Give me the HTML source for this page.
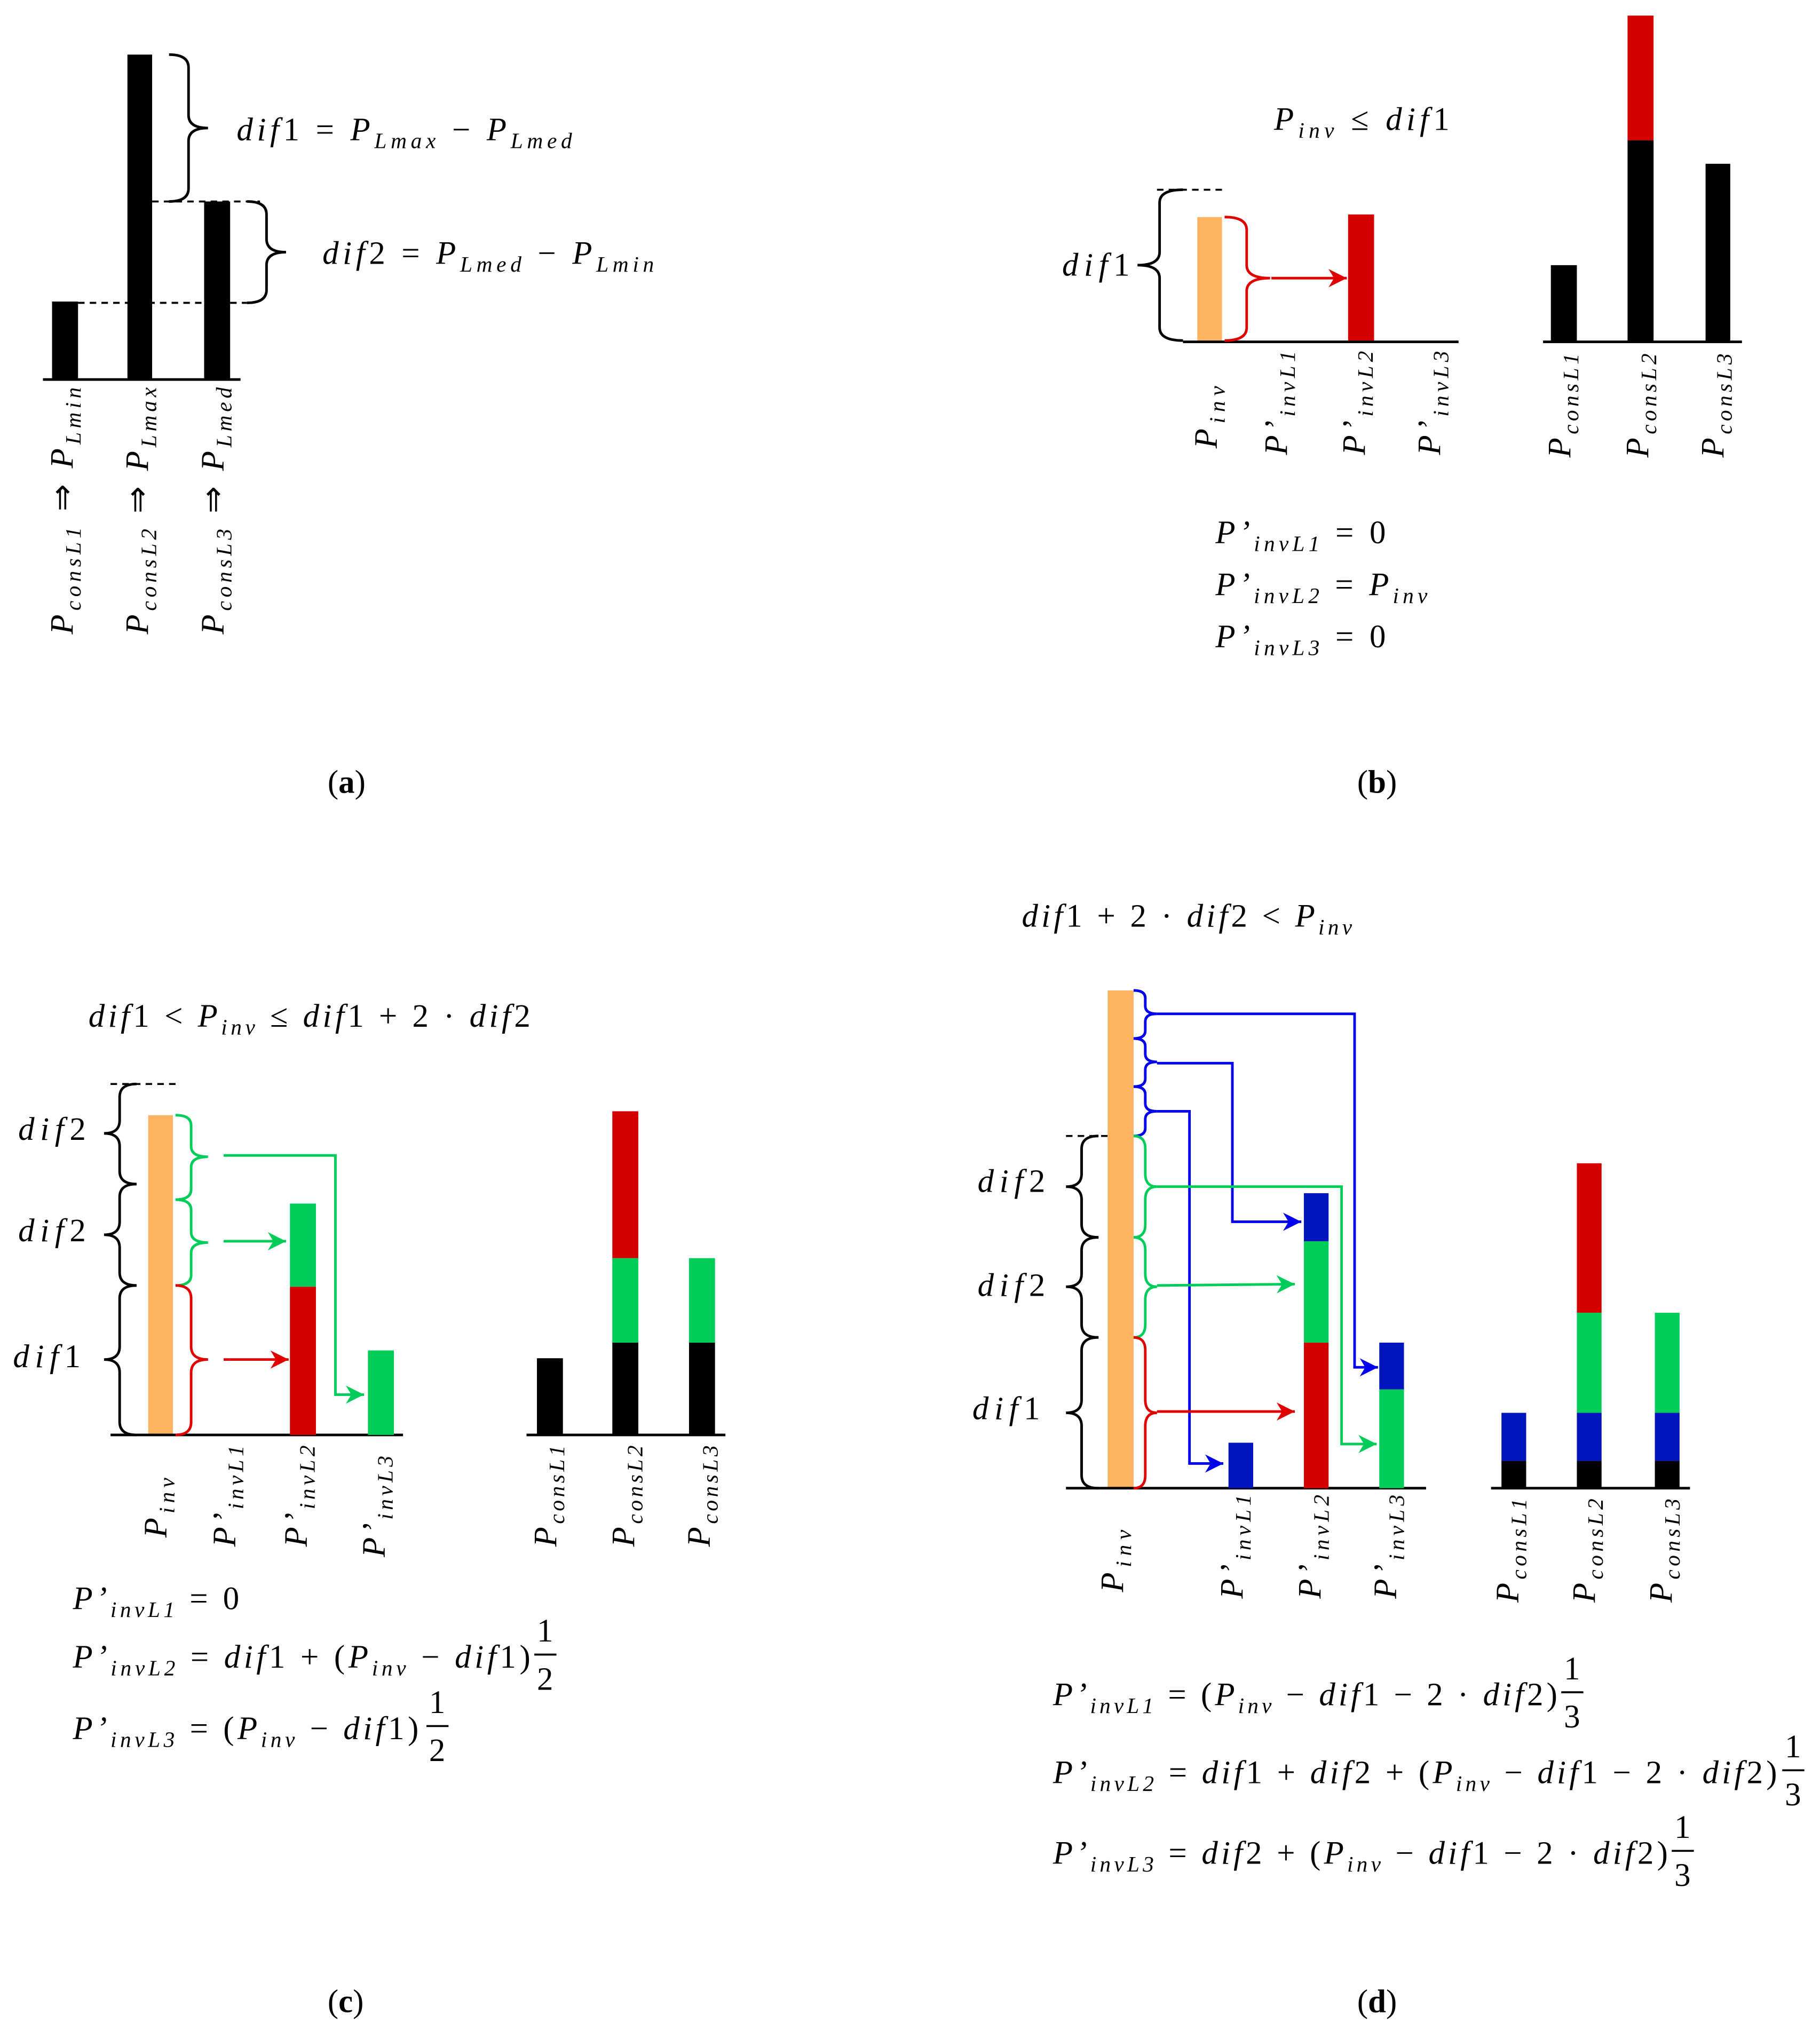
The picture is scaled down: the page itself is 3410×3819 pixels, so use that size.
<!DOCTYPE html>
<html><head><meta charset="utf-8"><style>
html,body{margin:0;padding:0;background:#fff}
svg{display:block}
text{font-family:"Liberation Serif",serif;font-style:italic;font-size:25px;fill:#000}
.n{font-style:normal}
.s{font-size:17px}
</style></head><body>
<svg width="3410" height="3819" viewBox="0 0 1400 1568" xmlns="http://www.w3.org/2000/svg">
<defs>
<marker id="ar" viewBox="0 0 10 10" refX="10" refY="5" markerWidth="7" markerHeight="7" orient="auto"><path d="M0 0 L10 5 L0 10 L3 5Z" fill="#e00000"/></marker>
<marker id="ag" viewBox="0 0 10 10" refX="10" refY="5" markerWidth="7" markerHeight="7" orient="auto"><path d="M0 0 L10 5 L0 10 L3 5Z" fill="#00cc5a"/></marker>
<marker id="ab" viewBox="0 0 10 10" refX="10" refY="5" markerWidth="7" markerHeight="7" orient="auto"><path d="M0 0 L10 5 L0 10 L3 5Z" fill="#0000ee"/></marker>
</defs>
<rect width="1400" height="1568" fill="#fff"/>

<!-- (a) -->
<rect x="40" y="232" width="20" height="60" fill="#000"/>
<rect x="98" y="42" width="19" height="250" fill="#000"/>
<rect x="157" y="155" width="20" height="137" fill="#000"/>
<line x1="33" y1="292" x2="185" y2="292" stroke="#000" stroke-width="2"/>
<line x1="117" y1="155" x2="200" y2="155" stroke="#000" stroke-width="1.5" stroke-dasharray="5,4"/>
<line x1="60" y1="233" x2="190" y2="233" stroke="#000" stroke-width="1.5" stroke-dasharray="5,4"/>
<g fill="none" stroke="#000" stroke-width="2">
<path d="M130 42 Q145 42 145 52 L145 88.5 Q145 98.5 160 98.5 Q145 98.5 145 108.5 L145 145 Q145 155 130 155"/>
<path d="M190 155 Q205 155 205 165 L205 184 Q205 194 220 194 Q205 194 205 204 L205 223 Q205 233 190 233"/>
</g>
<text x="182" y="108" textLength="258">dif<tspan class="n">1 = </tspan>P<tspan class="s" dy="6">Lmax</tspan><tspan dy="-6" class="n"> − </tspan>P<tspan class="s" dy="6">Lmed</tspan></text>
<text x="248" y="203" textLength="255">dif<tspan class="n">2 = </tspan>P<tspan class="s" dy="6">Lmed</tspan><tspan dy="-6" class="n"> − </tspan>P<tspan class="s" dy="6">Lmin</tspan></text>
<text transform="translate(56,488) rotate(-90)" textLength="190">P<tspan class="s" dy="6">consL1</tspan><tspan dy="-6" class="n"> ⇒ </tspan>P<tspan class="s" dy="6">Lmin</tspan></text>
<text transform="translate(114,488) rotate(-90)" textLength="190">P<tspan class="s" dy="6">consL2</tspan><tspan dy="-6" class="n"> ⇒ </tspan>P<tspan class="s" dy="6">Lmax</tspan></text>
<text transform="translate(172,488) rotate(-90)" textLength="190">P<tspan class="s" dy="6">consL3</tspan><tspan dy="-6" class="n"> ⇒ </tspan>P<tspan class="s" dy="6">Lmed</tspan></text>
<text class="n" x="252" y="610">(<tspan font-weight="bold">a</tspan>)</text>

<!-- (b) -->
<text x="980" y="100" textLength="135">P<tspan class="s" dy="6">inv</tspan><tspan dy="-6" class="n"> ≤ </tspan>dif<tspan class="n">1</tspan></text>
<line x1="890" y1="146" x2="942" y2="146" stroke="#000" stroke-width="1.5" stroke-dasharray="5,4"/>
<rect x="921" y="167" width="19" height="95" fill="#fdb462"/>
<rect x="1037" y="165" width="20" height="97" fill="#d40000"/>
<line x1="910" y1="263" x2="1122" y2="263" stroke="#000" stroke-width="2"/>
<path d="M910 146 Q892 146 892 156 L892 194 Q892 204 875 204 Q892 204 892 214 L892 252 Q892 262 910 262" fill="none" stroke="#000" stroke-width="2"/>
<path d="M942 167 Q959 167 959 177 L959 204 Q959 214 977 214 Q959 214 959 224 L959 252 Q959 262 942 262" fill="none" stroke="#e00000" stroke-width="2"/>
<line x1="978" y1="214" x2="1036" y2="214" stroke="#e00000" stroke-width="2" marker-end="url(#ar)"/>
<text x="817" y="212" textLength="52">dif<tspan class="n">1</tspan></text>
<text transform="translate(936,345) rotate(-90)" textLength="48">P<tspan class="s" dy="6">inv</tspan></text>
<text transform="translate(990,350) rotate(-90)" textLength="80">P’<tspan class="s" dy="6">invL1</tspan></text>
<text transform="translate(1050,350) rotate(-90)" textLength="80">P’<tspan class="s" dy="6">invL2</tspan></text>
<text transform="translate(1108,350) rotate(-90)" textLength="80">P’<tspan class="s" dy="6">invL3</tspan></text>
<rect x="1193" y="204" width="20" height="59" fill="#000"/>
<rect x="1252" y="12" width="20" height="96" fill="#d40000"/>
<rect x="1252" y="108" width="20" height="155" fill="#000"/>
<rect x="1312" y="126" width="19" height="137" fill="#000"/>
<line x1="1187" y1="263" x2="1340" y2="263" stroke="#000" stroke-width="2"/>
<text transform="translate(1208,352) rotate(-90)" textLength="80">P<tspan class="s" dy="6">consL1</tspan></text>
<text transform="translate(1268,352) rotate(-90)" textLength="80">P<tspan class="s" dy="6">consL2</tspan></text>
<text transform="translate(1326,352) rotate(-90)" textLength="80">P<tspan class="s" dy="6">consL3</tspan></text>
<text x="935" y="418" textLength="131">P’<tspan class="s" dy="6">invL1</tspan><tspan dy="-6" class="n"> = 0</tspan></text>
<text x="935" y="458" textLength="163">P’<tspan class="s" dy="6">invL2</tspan><tspan dy="-6" class="n"> = </tspan>P<tspan class="s" dy="6">inv</tspan></text>
<text x="935" y="498" textLength="131">P’<tspan class="s" dy="6">invL3</tspan><tspan dy="-6" class="n"> = 0</tspan></text>
<text class="n" x="1044" y="610">(<tspan font-weight="bold">b</tspan>)</text>

<!-- (c) -->
<text x="68" y="790" textLength="340">dif<tspan class="n">1 &lt; </tspan>P<tspan class="s" dy="6">inv</tspan><tspan dy="-6" class="n"> ≤ </tspan>dif<tspan class="n">1 + 2 · </tspan>dif<tspan class="n">2</tspan></text>
<line x1="85" y1="834" x2="138" y2="834" stroke="#000" stroke-width="1.5" stroke-dasharray="5,4"/>
<rect x="114" y="858" width="19" height="246" fill="#fdb462"/>
<line x1="85" y1="1104" x2="310" y2="1104" stroke="#000" stroke-width="2"/>
<g fill="none" stroke="#000" stroke-width="2">
<path d="M105 834 Q92 834 92 844 L92 862 Q92 872 80 872 Q92 872 92 882 L92 901 Q92 911 105 911"/>
<path d="M105 911 Q92 911 92 921 L92 940 Q92 950 80 950 Q92 950 92 960 L92 979 Q92 989 105 989"/>
<path d="M105 989 Q92 989 92 999 L92 1036 Q92 1046 80 1046 Q92 1046 92 1056 L92 1094 Q92 1104 105 1104"/>
</g>
<g fill="none" stroke="#00cc5a" stroke-width="2">
<path d="M135 858 Q147 858 147 866 L147 882 Q147 890 160 890 Q147 890 147 898 L147 915 Q147 923 135 923"/>
<path d="M135 923 Q147 923 147 931 L147 948 Q147 956 160 956 Q147 956 147 964 L147 981 Q147 989 135 989"/>
<polyline points="172,889 258,889 258,1073 280,1073" marker-end="url(#ag)"/>
<line x1="172" y1="955" x2="220" y2="955" marker-end="url(#ag)"/>
</g>
<path d="M135 989 Q147 989 147 999 L147 1036 Q147 1046 160 1046 Q147 1046 147 1056 L147 1094 Q147 1104 135 1104" fill="none" stroke="#e00000" stroke-width="2"/>
<line x1="172" y1="1046" x2="222" y2="1046" stroke="#e00000" stroke-width="2" marker-end="url(#ar)"/>
<rect x="223" y="926" width="20" height="64" fill="#00cc5a"/>
<rect x="223" y="990" width="20" height="114" fill="#d40000"/>
<rect x="283" y="1039" width="20" height="65" fill="#00cc5a"/>
<text x="14" y="877" textLength="52">dif<tspan class="n">2</tspan></text>
<text x="14" y="955" textLength="52">dif<tspan class="n">2</tspan></text>
<text x="10" y="1052" textLength="52">dif<tspan class="n">1</tspan></text>
<text transform="translate(128,1183) rotate(-90)" textLength="46">P<tspan class="s" dy="6">inv</tspan></text>
<text transform="translate(181,1190) rotate(-90)" textLength="78">P’<tspan class="s" dy="6">invL1</tspan></text>
<text transform="translate(236,1190) rotate(-90)" textLength="78">P’<tspan class="s" dy="6">invL2</tspan></text>
<text transform="translate(296,1198) rotate(-90)" textLength="78">P’<tspan class="s" dy="6">invL3</tspan></text>
<rect x="413" y="1045" width="20" height="59" fill="#000"/>
<rect x="471" y="855" width="20" height="113" fill="#d40000"/>
<rect x="471" y="968" width="20" height="65" fill="#00cc5a"/>
<rect x="471" y="1033" width="20" height="71" fill="#000"/>
<rect x="530" y="968" width="20" height="65" fill="#00cc5a"/>
<rect x="530" y="1033" width="20" height="71" fill="#000"/>
<line x1="405" y1="1104" x2="558" y2="1104" stroke="#000" stroke-width="2"/>
<text transform="translate(428,1190) rotate(-90)" textLength="78">P<tspan class="s" dy="6">consL1</tspan></text>
<text transform="translate(488,1190) rotate(-90)" textLength="78">P<tspan class="s" dy="6">consL2</tspan></text>
<text transform="translate(546,1190) rotate(-90)" textLength="78">P<tspan class="s" dy="6">consL3</tspan></text>
<text x="56" y="1238" textLength="128">P’<tspan class="s" dy="6">invL1</tspan><tspan dy="-6" class="n"> = 0</tspan></text>
<text x="56" y="1283" textLength="352">P’<tspan class="s" dy="6">invL2</tspan><tspan dy="-6" class="n"> = </tspan>dif<tspan class="n">1 + (</tspan>P<tspan class="s" dy="6">inv</tspan><tspan dy="-6" class="n"> − </tspan>dif<tspan class="n">1)</tspan></text>
<text class="n" x="413" y="1263">1</text><line x1="411" y1="1273" x2="428" y2="1273" stroke="#000" stroke-width="1.5"/><text class="n" x="413" y="1300">2</text>
<text x="56" y="1338" textLength="266">P’<tspan class="s" dy="6">invL3</tspan><tspan dy="-6" class="n"> = (</tspan>P<tspan class="s" dy="6">inv</tspan><tspan dy="-6" class="n"> − </tspan>dif<tspan class="n">1)</tspan></text>
<text class="n" x="330" y="1318">1</text><line x1="328" y1="1328" x2="345" y2="1328" stroke="#000" stroke-width="1.5"/><text class="n" x="330" y="1355">2</text>
<text class="n" x="252" y="1548">(<tspan font-weight="bold">c</tspan>)</text>

<!-- (d) -->
<text x="786" y="713" textLength="254">dif<tspan class="n">1 + 2 · </tspan>dif<tspan class="n">2 &lt; </tspan>P<tspan class="s" dy="6">inv</tspan></text>
<line x1="820" y1="874" x2="872" y2="874" stroke="#000" stroke-width="1.5" stroke-dasharray="5,4"/>
<rect x="852" y="762" width="20" height="383" fill="#fdb462"/>
<line x1="820" y1="1145" x2="1097" y2="1145" stroke="#000" stroke-width="2"/>
<g fill="none" stroke="#000" stroke-width="2">
<path d="M845 874 Q832 874 832 884 L832 903 Q832 913 820 913 Q832 913 832 923 L832 942 Q832 952 845 952"/>
<path d="M845 952 Q832 952 832 962 L832 980 Q832 990 820 990 Q832 990 832 1000 L832 1019 Q832 1029 845 1029"/>
<path d="M845 1029 Q832 1029 832 1039 L832 1077 Q832 1087 820 1087 Q832 1087 832 1097 L832 1135 Q832 1145 845 1145"/>
</g>
<g fill="none" stroke="#0000ee" stroke-width="2">
<path d="M872 762 Q881 762 881 768 L881 774 Q881 780 890 780 Q881 780 881 786 L881 793 Q881 799 872 799"/>
<path d="M872 799 Q881 799 881 805 L881 811 Q881 817 890 817 Q881 817 881 823 L881 830 Q881 836 872 836"/>
<path d="M872 836 Q881 836 881 842 L881 849 Q881 855 890 855 Q881 855 881 861 L881 868 Q881 874 872 874"/>
<polyline points="890,780 1042,780 1042,1052 1060,1052" marker-end="url(#ab)"/>
<polyline points="890,818 948,818 948,940 1001,940" marker-end="url(#ab)"/>
<polyline points="890,855 915,855 915,1126 941,1126" marker-end="url(#ab)"/>
</g>
<g fill="none" stroke="#00cc5a" stroke-width="2">
<path d="M872 874 Q881 874 881 884 L881 903 Q881 913 890 913 Q881 913 881 923 L881 942 Q881 952 872 952"/>
<path d="M872 952 Q881 952 881 962 L881 980 Q881 990 890 990 Q881 990 881 1000 L881 1019 Q881 1029 872 1029"/>
<polyline points="890,913 1032,913 1032,1111 1059,1111" marker-end="url(#ag)"/>
<line x1="890" y1="989" x2="996" y2="988" marker-end="url(#ag)"/>
</g>
<path d="M872 1029 Q881 1029 881 1039 L881 1077 Q881 1087 890 1087 Q881 1087 881 1097 L881 1135 Q881 1145 872 1145" fill="none" stroke="#e00000" stroke-width="2"/>
<line x1="890" y1="1086" x2="996" y2="1086" stroke="#e00000" stroke-width="2" marker-end="url(#ar)"/>
<rect x="945" y="1110" width="19" height="35" fill="#0015bb"/>
<rect x="1003" y="918" width="19" height="37" fill="#0015bb"/>
<rect x="1003" y="955" width="19" height="78" fill="#00cc5a"/>
<rect x="1003" y="1033" width="19" height="112" fill="#d40000"/>
<rect x="1061" y="1033" width="19" height="36" fill="#0015bb"/>
<rect x="1061" y="1069" width="19" height="76" fill="#00cc5a"/>
<text x="752" y="917" textLength="52">dif<tspan class="n">2</tspan></text>
<text x="752" y="997" textLength="52">dif<tspan class="n">2</tspan></text>
<text x="748" y="1092" textLength="52">dif<tspan class="n">1</tspan></text>
<text transform="translate(864,1225) rotate(-90)" textLength="48">P<tspan class="s" dy="6">inv</tspan></text>
<text transform="translate(956,1230) rotate(-90)" textLength="80">P’<tspan class="s" dy="6">invL1</tspan></text>
<text transform="translate(1016,1230) rotate(-90)" textLength="80">P’<tspan class="s" dy="6">invL2</tspan></text>
<text transform="translate(1074,1230) rotate(-90)" textLength="80">P’<tspan class="s" dy="6">invL3</tspan></text>
<rect x="1155" y="1087" width="19" height="37" fill="#0015bb"/>
<rect x="1155" y="1124" width="19" height="21" fill="#000"/>
<rect x="1213" y="895" width="19" height="115" fill="#d40000"/>
<rect x="1213" y="1010" width="19" height="77" fill="#00cc5a"/>
<rect x="1213" y="1087" width="19" height="37" fill="#0015bb"/>
<rect x="1213" y="1124" width="19" height="21" fill="#000"/>
<rect x="1273" y="1010" width="19" height="77" fill="#00cc5a"/>
<rect x="1273" y="1087" width="19" height="37" fill="#0015bb"/>
<rect x="1273" y="1124" width="19" height="21" fill="#000"/>
<line x1="1147" y1="1145" x2="1300" y2="1145" stroke="#000" stroke-width="2"/>
<text transform="translate(1168,1233) rotate(-90)" textLength="80">P<tspan class="s" dy="6">consL1</tspan></text>
<text transform="translate(1227,1233) rotate(-90)" textLength="80">P<tspan class="s" dy="6">consL2</tspan></text>
<text transform="translate(1286,1233) rotate(-90)" textLength="80">P<tspan class="s" dy="6">consL3</tspan></text>
<text x="810" y="1312" textLength="388">P’<tspan class="s" dy="6">invL1</tspan><tspan dy="-6" class="n"> = (</tspan>P<tspan class="s" dy="6">inv</tspan><tspan dy="-6" class="n"> − </tspan>dif<tspan class="n">1 − 2 · </tspan>dif<tspan class="n">2)</tspan></text>
<text class="n" x="1203" y="1292">1</text><line x1="1201" y1="1302" x2="1218" y2="1302" stroke="#000" stroke-width="1.5"/><text class="n" x="1203" y="1329">3</text>
<text x="810" y="1372" textLength="557">P’<tspan class="s" dy="6">invL2</tspan><tspan dy="-6" class="n"> = </tspan>dif<tspan class="n">1 + </tspan>dif<tspan class="n">2 + (</tspan>P<tspan class="s" dy="6">inv</tspan><tspan dy="-6" class="n"> − </tspan>dif<tspan class="n">1 − 2 · </tspan>dif<tspan class="n">2)</tspan></text>
<text class="n" x="1373" y="1352">1</text><line x1="1371" y1="1362" x2="1388" y2="1362" stroke="#000" stroke-width="1.5"/><text class="n" x="1373" y="1389">3</text>
<text x="810" y="1434" textLength="473">P’<tspan class="s" dy="6">invL3</tspan><tspan dy="-6" class="n"> = </tspan>dif<tspan class="n">2 + (</tspan>P<tspan class="s" dy="6">inv</tspan><tspan dy="-6" class="n"> − </tspan>dif<tspan class="n">1 − 2 · </tspan>dif<tspan class="n">2)</tspan></text>
<text class="n" x="1288" y="1414">1</text><line x1="1286" y1="1424" x2="1303" y2="1424" stroke="#000" stroke-width="1.5"/><text class="n" x="1288" y="1451">3</text>
<text class="n" x="1044" y="1548">(<tspan font-weight="bold">d</tspan>)</text>
</svg>
</body></html>
